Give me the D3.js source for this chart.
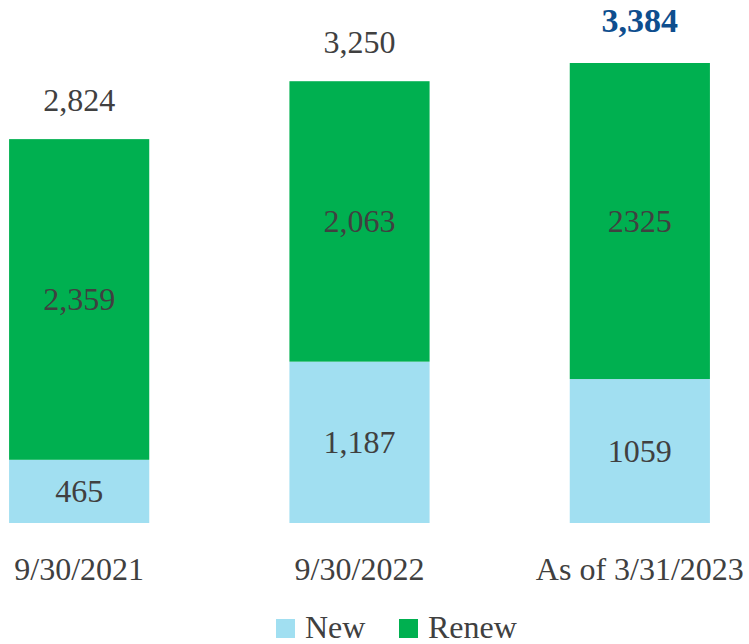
<!DOCTYPE html>
<html lang="en">
<head>
<meta charset="UTF-8" />
<title>New vs Renew</title>
<script src="https://cdn.jsdelivr.net/npm/d3@7"></script>
<style>
  body { margin: 0; background: #fff; }
  text { font-family: "Liberation Serif", "DejaVu Serif", serif; fill: #404040; }
</style>
</head>
<body>
<div id="chart"></div>
<script>
  // data
  const categories = ["9/30/2021", "9/30/2022", "As of 3/31/2023"];
  const newValues = [465, 1187, 1059];
  const renewValues = [2359, 2063, 2325];
  const newLabels = ["465", "1,187", "1059"];
  const renewLabels = ["2,359", "2,063", "2325"];
  const totalLabels = ["2,824", "3,250", "3,384"];
  const seriesNames = ["New", "Renew"];

  const width = 749, height = 644;
  const colors = { New: "#a1dff1", Renew: "#00b050" };
  const fs = 32;

  const rows = categories.map((c, i) => ({ cat: c, New: newValues[i], Renew: renewValues[i] }));
  const stacked = d3.stack().keys(seriesNames)(rows);

  const x = d3.scaleBand().domain(categories).range([-61, 780])
    .paddingInner(0.5).paddingOuter(0.25);
  const y = d3.scaleLinear().domain([0, 3384]).range([523, 63]);

  const svg = d3.select("#chart").append("svg")
    .attr("width", width).attr("height", height);

  const layer = svg.append("g").selectAll("g")
    .data(stacked).join("g")
      .attr("fill", d => colors[d.key]);

  layer.selectAll("rect")
    .data(d => d)
    .join("rect")
      .attr("x", d => x(d.data.cat))
      .attr("width", x.bandwidth())
      .attr("y", d => y(d[1]))
      .attr("height", d => y(d[0]) - y(d[1]));

  // labels inside segments
  const segLabels = [newLabels, renewLabels];
  stacked.forEach((s, k) => {
    svg.append("g").selectAll("text")
      .data(s).join("text")
        .attr("x", d => x(d.data.cat) + x.bandwidth() / 2)
        .attr("y", d => (y(d[0]) + y(d[1])) / 2 + 11)
        .attr("text-anchor", "middle")
        .attr("font-size", fs)
        .text((d, i) => segLabels[k][i]);
  });

  // totals on top
  svg.append("g").selectAll("text")
    .data(rows).join("text")
      .attr("x", d => x(d.cat) + x.bandwidth() / 2)
      .attr("y", (d, i) => y(d.New + d.Renew) - (i === 2 ? 31 : 28))
      .attr("text-anchor", "middle")
      .attr("font-size", (d, i) => i === 2 ? 34 : fs)
      .attr("font-weight", (d, i) => i === 2 ? "bold" : null)
      .style("fill", (d, i) => i === 2 ? "#0e4e8e" : null)
      .text((d, i) => totalLabels[i]);

  // category axis labels
  svg.append("g").selectAll("text")
    .data(categories).join("text")
      .attr("x", d => x(d) + x.bandwidth() / 2)
      .attr("y", 580)
      .attr("text-anchor", "middle")
      .attr("font-size", fs)
      .text(d => d);

  // legend
  const legendX = [276, 399];
  const legend = svg.append("g").selectAll("g")
    .data(seriesNames).join("g")
      .attr("transform", (d, i) => `translate(${legendX[i]},619)`);
  legend.append("rect")
    .attr("width", 19).attr("height", 19)
    .attr("fill", d => colors[d]);
  legend.append("text")
    .attr("x", 29).attr("y", 19)
    .attr("font-size", fs)
    .text(d => d);
</script>
</body>
</html>
